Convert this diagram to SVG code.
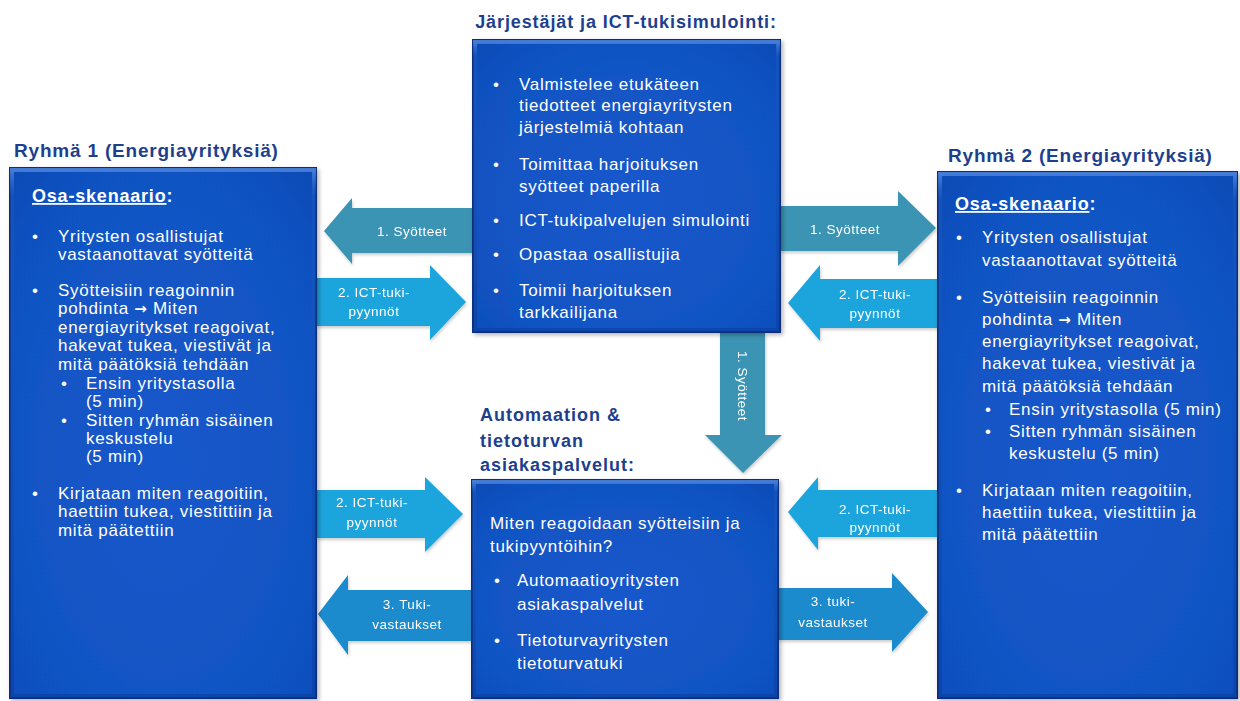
<svg xmlns="http://www.w3.org/2000/svg" width="1240" height="701" viewBox="0 0 1240 701">
  <style>
    .head { font-family: "Liberation Sans", Arial, sans-serif; font-weight: bold; fill: #1d3f8e; }
    .body { font-family: "Liberation Sans", Arial, sans-serif; font-size: 17px; fill: #ffffff; letter-spacing: 0.7px; }
    .sub { font-family: "Liberation Sans", Arial, sans-serif; font-size: 18px; font-weight: bold; fill: #ffffff; letter-spacing: 0.8px; }
    .lbl { font-family: "Liberation Sans", Arial, sans-serif; font-size: 13.5px; fill: #ffffff; letter-spacing: 0.5px; text-anchor: middle; }
    .arr { font-family: "DejaVu Sans", sans-serif; font-size: 15px; font-weight: bold; }
    .box { fill: url(#boxFill); stroke: #0c2e78; stroke-width: 2; filter: url(#shadow); }
    .bevel { fill: none; stroke: url(#bevel); stroke-width: 4; }
    .teal { fill: #3a94b3; }
    .cyan { fill: #1ca4dd; }
    .blue { fill: #1a8bcd; }
  </style>
  <defs>
    <radialGradient id="boxFill" cx="0.5" cy="0.55" r="0.75">
      <stop offset="0" stop-color="#1459cc"/>
      <stop offset="0.8" stop-color="#1151c0"/>
      <stop offset="1" stop-color="#0e4ab4"/>
    </radialGradient>
    <linearGradient id="bevel" x1="0" y1="0" x2="0" y2="1">
      <stop offset="0" stop-color="#4a82dc" stop-opacity="0.9"/>
      <stop offset="0.05" stop-color="#1e5cc4" stop-opacity="0.4"/>
      <stop offset="1" stop-color="#0a3a98" stop-opacity="0.5"/>
    </linearGradient>
    <filter id="shadow" x="-5%" y="-5%" width="110%" height="110%">
      <feDropShadow dx="2" dy="2" stdDeviation="2" flood-color="#000000" flood-opacity="0.3"/>
    </filter>
    <filter id="ashadow" x="-5%" y="-10%" width="110%" height="125%">
      <feDropShadow dx="1" dy="2" stdDeviation="1.5" flood-color="#000000" flood-opacity="0.2"/>
    </filter>
  </defs>

  <rect width="1240" height="701" fill="#ffffff"/>

  <!-- connectors: block arrows -->
  <g id="connectors" filter="url(#ashadow)">
    <g id="a-syotteet-left">
      <path class="teal" d="M474,208 L352,208 L352,198 L324,231 L352,264 L352,253 L474,253 Z"/>
      <text class="lbl" x="412" y="236">1. Syötteet</text>
    </g>
    <g id="a-ict-left-top">
      <path class="cyan" d="M316,278 L430,278 L430,265 L466,302 L430,340 L430,326 L316,326 Z"/>
      <text class="lbl" x="374" y="297">2. ICT-tuki-</text>
      <text class="lbl" x="374" y="316">pyynnöt</text>
    </g>
    <g id="a-syotteet-right">
      <path class="teal" d="M780,206 L898,206 L898,191 L936,228 L898,266 L898,251 L780,251 Z"/>
      <text class="lbl" x="845" y="234">1. Syötteet</text>
    </g>
    <g id="a-ict-right-top">
      <path class="cyan" d="M938,279 L820,279 L820,265 L788,303 L820,341 L820,328 L938,328 Z"/>
      <text class="lbl" x="875" y="299">2. ICT-tuki-</text>
      <text class="lbl" x="875" y="318">pyynnöt</text>
    </g>
    <g id="a-syotteet-down">
      <path class="teal" d="M720,332 L765,332 L765,435 L782,435 L743,473 L705,435 L720,435 Z"/>
      <text class="lbl" transform="translate(738,386) rotate(90)">1. Syötteet</text>
    </g>
    <g id="a-ict-left-bottom">
      <path class="cyan" d="M316,490 L425,490 L425,477 L463,514 L425,552 L425,538 L316,538 Z"/>
      <text class="lbl" x="372" y="507">2. ICT-tuki-</text>
      <text class="lbl" x="372" y="527">pyynnöt</text>
    </g>
    <g id="a-tuki-left">
      <path class="blue" d="M472,590 L348,590 L348,575 L318,614 L348,655 L348,641 L472,641 Z"/>
      <text class="lbl" x="407" y="609">3. Tuki-</text>
      <text class="lbl" x="407" y="629">vastaukset</text>
    </g>
    <g id="a-ict-right-bottom">
      <path class="cyan" d="M938,490 L818,490 L818,477 L788,512 L818,550 L818,537 L938,537 Z"/>
      <text class="lbl" x="875" y="514">2. ICT-tuki-</text>
      <text class="lbl" x="875" y="532">pyynnöt</text>
    </g>
    <g id="a-tuki-right">
      <path class="blue" d="M778,588 L892,588 L892,573 L928,612 L892,652 L892,640 L778,640 Z"/>
      <text class="lbl" x="833" y="606">3. tuki-</text>
      <text class="lbl" x="833" y="627">vastaukset</text>
    </g>
  </g>

  <!-- organisers / ICT support simulation -->
  <g id="node-jarjestajat">
    <text class="head" x="626" y="28" font-size="18" letter-spacing="0.9" text-anchor="middle">Järjestäjät ja ICT-tukisimulointi:</text>
    <rect class="box" x="473" y="40" width="307" height="292"/>
    <rect class="bevel" x="475" y="42" width="303" height="288"/>
    <g class="body">
      <text x="493" y="90">•</text>
      <text x="519" y="90">Valmistelee etukäteen</text>
      <text x="519" y="111">tiedotteet energiayritysten</text>
      <text x="519" y="133">järjestelmiä kohtaan</text>
      <text x="493" y="170">•</text>
      <text x="519" y="170">Toimittaa harjoituksen</text>
      <text x="519" y="192">syötteet paperilla</text>
      <text x="493" y="226">•</text>
      <text x="519" y="226">ICT-tukipalvelujen simulointi</text>
      <text x="493" y="260">•</text>
      <text x="519" y="260">Opastaa osallistujia</text>
      <text x="493" y="296">•</text>
      <text x="519" y="296">Toimii harjoituksen</text>
      <text x="519" y="318">tarkkailijana</text>
    </g>
  </g>

  <!-- group 1 -->
  <g id="node-ryhma1">
    <text class="head" x="14" y="157" font-size="19" letter-spacing="0.8">Ryhmä 1 (Energiayrityksiä)</text>
    <rect class="box" x="10" y="168" width="306" height="530"/>
    <rect class="bevel" x="12" y="170" width="302" height="526"/>
    <text class="sub" x="32" y="202"><tspan text-decoration="underline">Osa-skenaario</tspan>:</text>
    <g class="body">
      <text x="32" y="242">•</text>
      <text x="58" y="242">Yritysten osallistujat</text>
      <text x="58" y="260">vastaanottavat  syötteitä</text>
      <text x="32" y="296">•</text>
      <text x="58" y="296">Syötteisiin reagoinnin</text>
      <text x="58" y="314">pohdinta <tspan class="arr">→</tspan> Miten</text>
      <text x="58" y="333">energiayritykset reagoivat,</text>
      <text x="58" y="351">hakevat tukea, viestivät ja</text>
      <text x="58" y="370">mitä päätöksiä tehdään</text>
      <text x="61" y="389">•</text>
      <text x="86" y="389">Ensin yritystasolla</text>
      <text x="86" y="407">(5 min)</text>
      <text x="61" y="426">•</text>
      <text x="86" y="426">Sitten ryhmän sisäinen</text>
      <text x="86" y="444">keskustelu</text>
      <text x="86" y="462">(5 min)</text>
      <text x="32" y="499">•</text>
      <text x="58" y="499">Kirjataan miten reagoitiin,</text>
      <text x="58" y="517">haettiin tukea, viestittiin ja</text>
      <text x="58" y="536">mitä päätettiin</text>
    </g>
  </g>

  <!-- group 2 -->
  <g id="node-ryhma2">
    <text class="head" x="948" y="162" font-size="19" letter-spacing="0.8">Ryhmä 2 (Energiayrityksiä)</text>
    <rect class="box" x="938" y="172" width="299" height="526"/>
    <rect class="bevel" x="940" y="174" width="295" height="522"/>
    <text class="sub" x="955" y="210"><tspan text-decoration="underline">Osa-skenaario</tspan>:</text>
    <g class="body">
      <text x="956" y="243">•</text>
      <text x="982" y="243">Yritysten osallistujat</text>
      <text x="982" y="266">vastaanottavat  syötteitä</text>
      <text x="956" y="303">•</text>
      <text x="982" y="303">Syötteisiin reagoinnin</text>
      <text x="982" y="325">pohdinta <tspan class="arr">→</tspan> Miten</text>
      <text x="982" y="347">energiayritykset reagoivat,</text>
      <text x="982" y="369">hakevat tukea, viestivät ja</text>
      <text x="982" y="392">mitä päätöksiä tehdään</text>
      <text x="985" y="415">•</text>
      <text x="1009" y="415">Ensin yritystasolla (5 min)</text>
      <text x="985" y="437">•</text>
      <text x="1009" y="437">Sitten ryhmän sisäinen</text>
      <text x="1009" y="459">keskustelu (5 min)</text>
      <text x="956" y="496">•</text>
      <text x="982" y="496">Kirjataan miten reagoitiin,</text>
      <text x="982" y="518">haettiin tukea, viestittiin ja</text>
      <text x="982" y="540">mitä päätettiin</text>
    </g>
  </g>

  <!-- automation & security customer services -->
  <g id="node-asiakaspalvelut">
    <text class="head" font-size="18" letter-spacing="1">
      <tspan x="480" y="421">Automaation &amp;</tspan>
      <tspan x="480" y="447">tietoturvan</tspan>
      <tspan x="480" y="471">asiakaspalvelut:</tspan>
    </text>
    <rect class="box" x="472" y="480" width="306" height="218"/>
    <rect class="bevel" x="474" y="482" width="302" height="214"/>
    <g class="body">
      <text x="490" y="529">Miten reagoidaan syötteisiin ja</text>
      <text x="490" y="552">tukipyyntöihin?</text>
      <text x="494" y="586">•</text>
      <text x="517" y="586">Automaatioyritysten</text>
      <text x="517" y="610">asiakaspalvelut</text>
      <text x="494" y="646">•</text>
      <text x="517" y="646">Tietoturvayritysten</text>
      <text x="517" y="669">tietoturvatuki</text>
    </g>
  </g>
</svg>
